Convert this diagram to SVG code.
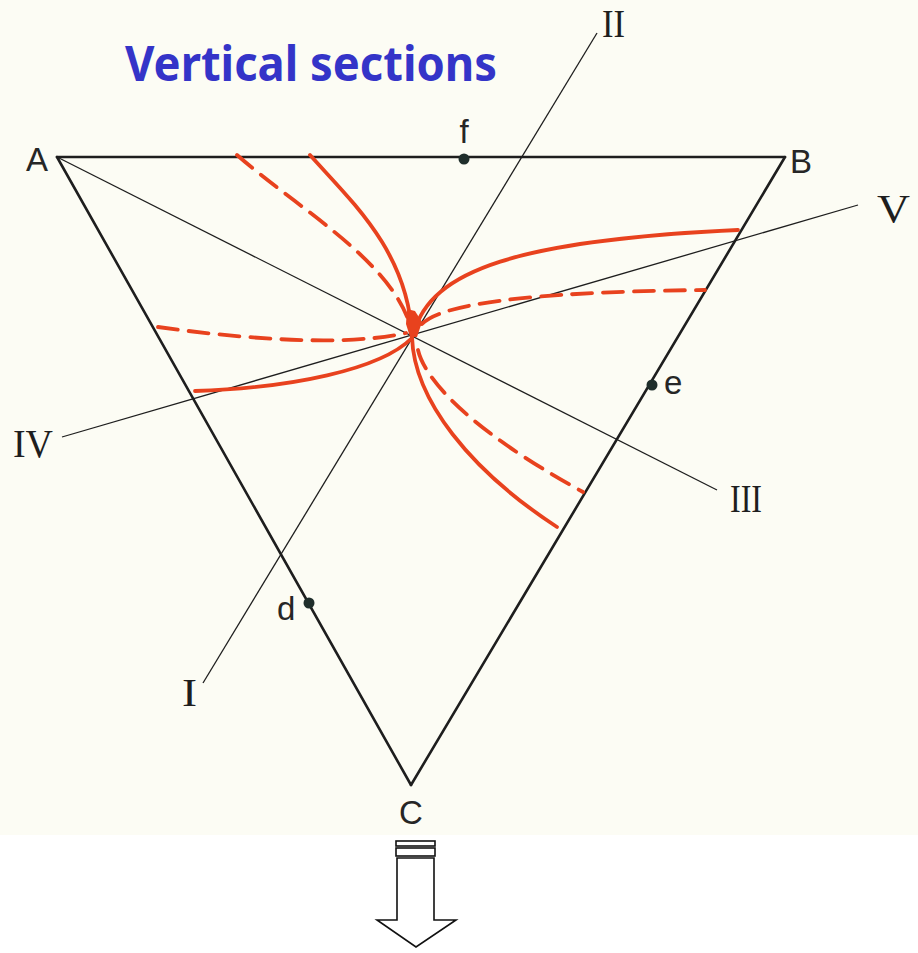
<svg xmlns="http://www.w3.org/2000/svg" width="918" height="953" viewBox="0 0 918 953">
  <style>
    .edge { stroke: #1e1e1e; stroke-width: 2.6; fill: none; stroke-linecap: round; }
    .thin { stroke: #1e1e1e; stroke-width: 1.3; fill: none; }
    .red { stroke: #e8421e; stroke-width: 3.8; fill: none; stroke-linecap: round; }
    .dash { stroke-dasharray: 20 11; }
    .lbl { font-family: "Liberation Sans", Arial, sans-serif; font-size: 33px; fill: #262626; }
    .rom { font-family: "Liberation Serif", "Times New Roman", serif; font-size: 41px; fill: #1e1e1e; }
    .dot { fill: #1f2e2b; }
    .title { font-family: "Noto Sans", "Open Sans", sans-serif; font-weight: bold; font-size: 48px; fill: #3434c8; }
    .arrow { fill: #ffffff; stroke: #111; stroke-width: 1.6; }
  </style>
  <rect x="0" y="0" width="918" height="953" fill="#ffffff"/>
  <rect x="0" y="0" width="918" height="835" fill="#fcfcf4"/>

  <text class="title" x="125" y="81" textLength="372" lengthAdjust="spacingAndGlyphs">Vertical sections</text>

  <g id="connectors">
    <line class="edge" x1="57" y1="157" x2="785" y2="157"/>
    <line class="edge" x1="57" y1="157" x2="411" y2="785"/>
    <line class="edge" x1="785" y1="157" x2="411" y2="785"/>
    <line class="thin" x1="57" y1="157" x2="717" y2="490"/>
    <line class="thin" x1="203" y1="683" x2="597" y2="33"/>
    <line class="thin" x1="62" y1="437" x2="858" y2="205"/>
  </g>

  <g id="curves">
    <path class="red" d="M310,155 C352,202 408,252 412,336"/>
    <path class="red" d="M412,337 C414,400 470,470 557,527"/>
    <path class="red dash" d="M237,155 C300,210 390,260 410,325"/>
    <path class="red dash" d="M418,350 C425,380 470,430 583,492"/>
    <path class="red" d="M414,333 C430,270 520,240 738,230"/>
    <path class="red dash" d="M422,324 C440,305 520,292 705,290"/>
    <path class="red dash" d="M158,327 C230,337 340,348 406,333"/>
    <path class="red" d="M195,391 C290,388 380,370 412,338"/>
    <path d="M407,309 L415,311 L422,322 L417,337 L410,337 L406,324 Z" fill="#e8421e"/>
  </g>

  <g id="vertex-A"><text class="lbl" x="26" y="171">A</text></g>
  <g id="vertex-B"><text class="lbl" x="790" y="173">B</text></g>
  <g id="vertex-C"><text class="lbl" x="399" y="824">C</text></g>

  <g id="point-f"><circle class="dot" cx="464" cy="159" r="5.5"/><text class="lbl" x="464" y="143" text-anchor="middle">f</text></g>
  <g id="point-d"><circle class="dot" cx="309" cy="603" r="5.5"/><text class="lbl" x="277" y="620">d</text></g>
  <g id="point-e"><circle class="dot" cx="652" cy="385" r="5.5"/><text class="lbl" x="664" y="394">e</text></g>

  <g id="label-I"><text class="rom" x="182" y="706" textLength="15" lengthAdjust="spacingAndGlyphs">I</text></g>
  <g id="label-II"><text class="rom" x="602" y="37" font-size="37" textLength="23" lengthAdjust="spacingAndGlyphs">II</text></g>
  <g id="label-III"><text class="rom" x="730" y="512" textLength="32" lengthAdjust="spacingAndGlyphs">III</text></g>
  <g id="label-IV"><text class="rom" x="13" y="457" textLength="40" lengthAdjust="spacingAndGlyphs">IV</text></g>
  <g id="label-V"><text class="rom" x="877" y="222" textLength="33" lengthAdjust="spacingAndGlyphs">V</text></g>

  <g id="down-arrow">
    <rect class="arrow" x="396" y="841" width="39" height="5"/>
    <rect class="arrow" x="396" y="848" width="39" height="8"/>
    <path class="arrow" d="M397,858 L397,920 L377,920 L416,947 L456,920 L434,920 L434,858 Z"/>
  </g>
</svg>
